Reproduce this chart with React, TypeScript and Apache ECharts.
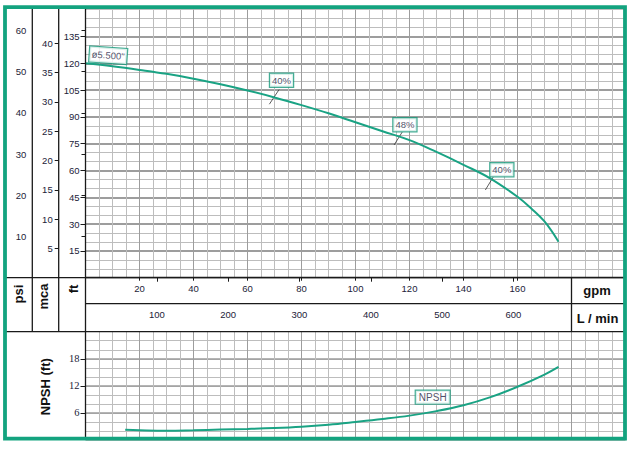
import React, { useEffect, useRef } from "react";
import * as echarts from "echarts";

// ---- data ----
const headGpm = [0, 10, 20, 30, 40, 50, 60, 70, 80, 90, 100, 110, 120, 130, 140, 150, 160, 165, 170, 175.2];
const headFt = [120, 118.3, 116.3, 114.1, 111.4, 108.3, 104.8, 100.9, 96.6, 92, 87, 82, 77, 70.4, 63.2, 55.5, 45.3, 38.9, 31.5, 20.1];

const npshGpm = [14.7, 20, 30, 40, 50, 60, 70, 80, 90, 100, 110, 120, 130, 140, 150, 160, 170, 175.2];
const npshFt = [2.25, 2.15, 2.05, 2.15, 2.3, 2.45, 2.65, 2.95, 3.4, 4.0, 4.65, 5.4, 6.4, 7.7, 9.5, 11.8, 14.5, 16.2];

const impellerLabel = 'ø5.500"';
const impellerAt = [8.4, 124.5];

const effLabels = ["40%", "48%", "40%"];
const effGpm = [72.6, 118.3, 154.2];
const effFt = [110.5, 85.6, 60.4];
const leaderFrom = [[68.1, 97.1], [114.3, 74.3], [148.1, 49.1]];
const leaderTo = [[71.7, 105.3], [117.3, 81.5], [151.0, 56.3]];

const npshLabel = "NPSH";
const npshLabelAt = [128.6, 9.5];

const gpmTicks = [20, 40, 60, 80, 100, 120, 140, 160];
const lpmTicks = [100, 200, 300, 400, 500, 600];
const ftTicks = [15, 30, 45, 60, 75, 90, 105, 120, 135];
const psiTicks = [10, 20, 30, 40, 50, 60];
const mcaTicks = [5, 10, 15, 20, 25, 30, 35, 40];
const npshTicks = [6, 12, 18];

const GPM_MAX = 200;
const FT_MAX = 150;
const NPSH_MAX = 24;
const LPM_PER_GPM = 3.78541;
const FT_PER_PSI = 2.30666;
const FT_PER_M = 3.28084;

// ---- layout ----
const W = 637;
const H = 454;
const GL = 85.5;
const GR = 625.5;
const GT = 9.7;
const GB = 277.7;
const MID = 303.7;
const BB = 331.7;
const NB = 440;
const PSI_X = 32.3;
const MCA_X = 58.7;
const CELL_X = GL + ((GR - GL) * 180) / GPM_MAX;

const GREEN = "#13a37f";
const CURVE = "#1aa384";
const BOX = "#17997a";
const MINOR = "#bdbdbd";
const MAJOR = "#9d9d9d";
const TXT = "#222238";
const SANS = '"Liberation Sans", Arial, sans-serif';
const SERIF = '"Liberation Serif", "Times New Roman", serif';

const tickLabel = { fontSize: 9.5, color: TXT, fontFamily: SANS };

function gridAxis(gridIndex: number, position: string, max: number, interval: number, color: string, width: number) {
  return {
    gridIndex,
    position,
    type: "value",
    z: 0,
    min: 0,
    max,
    interval,
    axisLine: { show: false },
    axisTick: { show: false },
    axisLabel: { show: false },
    splitLine: { show: true, lineStyle: { color, width } },
  };
}

function blackLine(x1: number, y1: number, x2: number, y2: number) {
  return {
    type: "line",
    z: 50,
    silent: true,
    shape: { x1, y1, x2, y2 },
    style: { stroke: "#1a1a1a", lineWidth: 1.3 },
  };
}

function unitText(text: string, x: number, y: number, rotated: boolean) {
  return {
    type: "text",
    z: 50,
    silent: true,
    x,
    y,
    rotation: rotated ? Math.PI / 2 : 0,
    style: {
      text,
      font: `bold 13px ${SANS}`,
      fill: "#111",
      align: "center",
      verticalAlign: "middle",
    },
  };
}

const boxLabel = {
  show: true,
  position: "inside",
  formatter: "{b}",
  backgroundColor: "#fff",
  borderColor: BOX,
  borderWidth: 1.2,
  padding: [2, 2, 1, 2],
  fontSize: 9.5,
  color: "#1e1e44",
  fontFamily: SANS,
};

const option = {
  animation: false,
  backgroundColor: "#fff",
  grid: [
    { left: GL, right: W - GR, top: GT, height: GB - GT },
    { left: GL, right: W - GR, top: BB, height: NB - BB },
  ],
  xAxis: [
    gridAxis(0, "bottom", GPM_MAX, 5, MINOR, 1),
    {
      ...gridAxis(0, "bottom", GPM_MAX, 20, MAJOR, 1),
      axisTick: { show: true, customValues: gpmTicks, length: 3, lineStyle: { color: "#1a1a1a" } },
      axisLabel: { show: true, customValues: gpmTicks, margin: 6, ...tickLabel },
    },
    {
      gridIndex: 0,
      type: "value",
      position: "bottom",
      offset: MID - GB,
      min: 0,
      max: GPM_MAX * LPM_PER_GPM,
      axisLine: { show: true, lineStyle: { color: "#1a1a1a", width: 1.3 } },
      axisTick: { show: true, customValues: lpmTicks, length: 4, lineStyle: { color: "#1a1a1a" } },
      axisLabel: { show: true, customValues: lpmTicks, margin: 6, ...tickLabel },
      splitLine: { show: false },
    },
    gridAxis(1, "bottom", GPM_MAX, 5, MINOR, 1),
    gridAxis(1, "bottom", GPM_MAX, 20, MAJOR, 1),
  ],
  yAxis: [
    gridAxis(0, "left", FT_MAX, 5, MINOR, 1),
    {
      ...gridAxis(0, "left", FT_MAX, 15, MAJOR, 2),
      axisTick: { show: true, customValues: ftTicks, length: 5, lineStyle: { color: "#1a1a1a" } },
      axisLabel: { show: true, customValues: ftTicks, margin: 6, ...tickLabel },
    },
    {
      gridIndex: 0,
      type: "value",
      position: "left",
      offset: GL - PSI_X,
      min: 0,
      max: FT_MAX / FT_PER_PSI,
      axisLine: { show: false },
      axisTick: { show: true, customValues: psiTicks, length: 4, lineStyle: { color: "#1a1a1a" } },
      axisLabel: { show: true, customValues: psiTicks, margin: 6, ...tickLabel },
      splitLine: { show: false },
    },
    {
      gridIndex: 0,
      type: "value",
      position: "left",
      offset: GL - MCA_X,
      min: 0,
      max: FT_MAX / FT_PER_M,
      axisLine: { show: false },
      axisTick: { show: true, customValues: mcaTicks, length: 4, lineStyle: { color: "#1a1a1a" } },
      axisLabel: { show: true, customValues: mcaTicks, margin: 6, ...tickLabel },
      splitLine: { show: false },
    },
    gridAxis(1, "left", NPSH_MAX, 2, MINOR, 1),
    {
      ...gridAxis(1, "left", NPSH_MAX, 6, MAJOR, 1.5),
      axisTick: { show: true, customValues: npshTicks, length: 5, lineStyle: { color: "#1a1a1a" } },
      axisLabel: { show: true, customValues: npshTicks, margin: 6, fontSize: 10.5, color: TXT, fontFamily: SERIF },
    },
  ],
  series: [
    {
      type: "line",
      xAxisIndex: 0,
      yAxisIndex: 0,
      data: headGpm.map((g, i) => [g, headFt[i]]),
      smooth: 0.4,
      showSymbol: false,
      lineStyle: { color: CURVE, width: 2 },
      z: 10,
    },
    {
      type: "line",
      xAxisIndex: 3,
      yAxisIndex: 4,
      data: npshGpm.map((g, i) => [g, npshFt[i]]),
      smooth: 0.4,
      showSymbol: false,
      lineStyle: { color: CURVE, width: 2 },
      z: 10,
    },
    {
      type: "scatter",
      xAxisIndex: 0,
      yAxisIndex: 0,
      symbolSize: 0,
      z: 12,
      data: [
        { name: impellerLabel, value: impellerAt, label: { rotate: -4, padding: [3, 2, 2, 2] } },
        ...effLabels.map((t, i) => ({ name: t, value: [effGpm[i], effFt[i]] })),
      ],
      label: boxLabel,
      markLine: {
        silent: true,
        symbol: ["none", "none"],
        label: { show: false },
        lineStyle: { color: "#333", width: 0.8, type: "solid" },
        data: leaderFrom.map((p, i) => [{ coord: p }, { coord: leaderTo[i] }]),
      },
    },
    {
      type: "scatter",
      xAxisIndex: 3,
      yAxisIndex: 4,
      symbolSize: 0,
      z: 12,
      data: [{ name: npshLabel, value: npshLabelAt }],
      label: { ...boxLabel, fontSize: 10, padding: [2, 3, 1, 3] },
    },
  ],
  graphic: [
    blackLine(5, GB, GR, GB),
    blackLine(5, BB, GR, BB),
    blackLine(GL, MID, GR, MID),
    blackLine(CELL_X, GB, CELL_X, BB),
    blackLine(PSI_X, 7, PSI_X, BB),
    blackLine(MCA_X, 7, MCA_X, BB),
    blackLine(GL, 7, GL, NB),
    unitText("psi", 18.3, 294, true),
    unitText("mca", 43.5, 296.5, true),
    unitText("ft", 73.3, 289, true),
    unitText("NPSH (ft)", 45, 386.7, true),
    unitText("gpm", 597, 290.5, false),
    unitText("L / min", 597.5, 318.5, false),
    {
      type: "rect",
      z: 100,
      silent: true,
      shape: { x: 5, y: 7.1, width: 620, height: 431.6 },
      style: { stroke: GREEN, lineWidth: 3.8, fill: "none" },
    },
  ],
};

export default function App() {
  const ref = useRef<HTMLDivElement>(null);
  useEffect(() => {
    if (!ref.current) return;
    const chart = echarts.init(ref.current, null, { renderer: "svg" });
    chart.setOption(option as any);
    return () => chart.dispose();
  }, []);
  return (
    <div
      ref={ref}
      style={{ position: "fixed", left: 0, top: 0, width: W, height: H, background: "#fff" }}
    />
  );
}
